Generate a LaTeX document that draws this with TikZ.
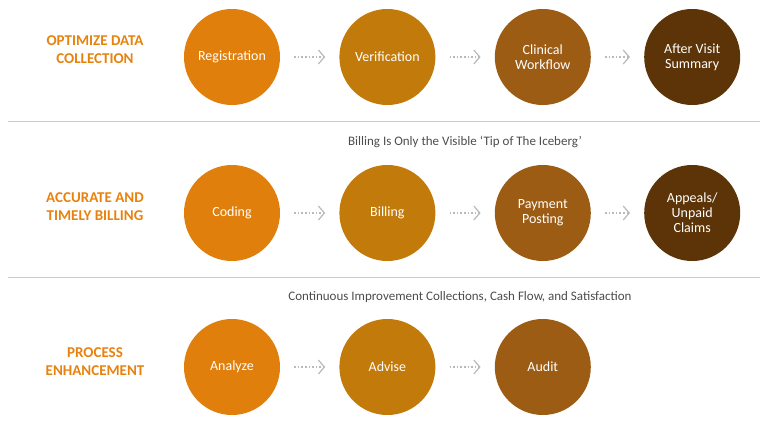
\documentclass[tikz,border=0pt]{standalone}
\usepackage{fontspec}
\setmainfont{Carlito}
\usetikzlibrary{arrows.meta, positioning}
\definecolor{cA}{HTML}{E07F0C}
\definecolor{cB}{HTML}{C27A0A}
\definecolor{cC}{HTML}{9C5C14}
\definecolor{cD}{HTML}{5C3407}
\definecolor{headc}{HTML}{E8820E}

\begin{document}
\begin{tikzpicture}[x=1pt, y=-1pt,
        stage/.style={circle, minimum size=96pt, inner sep=0pt, align=center, text=white, font=\fontsize{14}{15}\selectfont},
        head/.style={align=center, text=headc, font=\bfseries\fontsize{15}{18}\selectfont},
        note/.style={text=black!70, font=\fontsize{13}{15}\selectfont},
        flow/.style={draw=gray!55, line width=1.6pt, dotted, shorten <=14pt, shorten >=14pt, -{Straight Barb[length=6pt, width=14pt, line width=1.2pt]}},
        sep/.style={draw=gray!40, line width=0.8pt}
    ]
        \useasboundingbox (0,0) rectangle (768,423);

        % Row 1
        \node[head] at (95,50) {OPTIMIZE DATA\\COLLECTION};
        \node[stage, fill=cA] (reg) at (232,57) {Registration};
        \node[stage, fill=cB, right=59pt of reg] (ver) {Verification};
        \node[stage, fill=cC, right=59pt of ver] (cw) {Clinical\\Workflow};
        \node[stage, fill=cD, right=53pt of cw] (avs) {After Visit\\Summary};
        \draw[flow] (reg) -- (ver);
        \draw[flow] (ver) -- (cw);
        \draw[flow] (cw) -- (avs);

        \draw[sep] (8,121) -- (760,121);
        \node[note] at (465,142) {Billing Is Only the Visible `Tip of The Iceberg'};

        % Row 2
        \node[head] at (95,207) {ACCURATE AND\\TIMELY BILLING};
        \node[stage, fill=cA] (cod) at (232,213) {Coding};
        \node[stage, fill=cB, right=59pt of cod] (bil) {Billing};
        \node[stage, fill=cC, right=59pt of bil] (pay) {Payment\\Posting};
        \node[stage, fill=cD, right=53pt of pay] (app) {Appeals/\\Unpaid\\Claims};
        \draw[flow] (cod) -- (bil);
        \draw[flow] (bil) -- (pay);
        \draw[flow] (pay) -- (app);

        \draw[sep] (8,277) -- (760,277);
        \node[note] at (460,297) {Continuous Improvement Collections, Cash Flow, and Satisfaction};

        % Row 3
        \node[head] at (95,362) {PROCESS\\ENHANCEMENT};
        \node[stage, fill=cA] (ana) at (232,367) {Analyze};
        \node[stage, fill=cB, right=59pt of ana] (adv) {Advise};
        \node[stage, fill=cC, right=59pt of adv] (aud) {Audit};
        \draw[flow] (ana) -- (adv);
        \draw[flow] (adv) -- (aud);
\end{tikzpicture}
\end{document}
